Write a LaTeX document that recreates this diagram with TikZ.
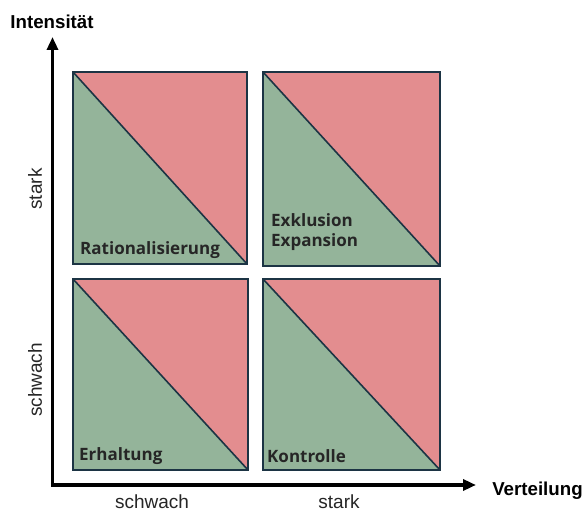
\documentclass[tikz,border=0pt]{standalone}
\usepackage{fontspec}
\setmainfont{Liberation Sans}
\newfontfamily\qfont{Open Sans}
\usetikzlibrary{arrows.meta}
\definecolor{qred}{HTML}{E38D8F}
\definecolor{qgreen}{HTML}{94B49A}
\definecolor{qedge}{HTML}{1C3444}
\tikzset{
  axis/.style={line width=3.4pt,-{Triangle[length=13pt,width=11pt]}},
  qlabel/.style={anchor=west,font=\qfont\bfseries\fontsize{17}{20}\selectfont,inner sep=0pt,text=black!85},
  axlabel/.style={font=\bfseries\fontsize{18.7}{22}\selectfont,inner sep=0pt},
  ticklabel/.style={font=\fontsize{19}{22}\selectfont,inner sep=0pt,text=black!85},
  qborder/.style={draw=qedge,line width=1.6pt}
}
\newcommand{\quadrant}[4]{%
  \fill[qred] (#1,#2) rectangle (#3,#4);
  \fill[qgreen] (#1,#4) -- (#3,#2) -- (#1,#2) -- cycle;
  \draw[qborder] (#1,#4) -- (#3,#2);
  \draw[qborder] (#1,#2) rectangle (#3,#4);
}
\begin{document}
\begin{tikzpicture}[x=1pt,y=1pt]
\useasboundingbox (0,0) rectangle (584,513);
\fill[white] (0,0) rectangle (584,513);
\quadrant{73}{249}{247}{441}
\quadrant{263}{247}{440}{441}
\quadrant{73}{43}{248}{234}
\quadrant{263}{43}{440}{234}
\coordinate (ytip) at (52.5,476);
\coordinate (xtip) at (476,28);
\draw[axis] (52.5,26.3) -- (ytip);
\draw[axis] (50.8,28) -- (xtip);
\node[axlabel] (yl) at (52,491) {Intensität};
\node[axlabel] (xl) at (537.5,22) {Verteilung};
\node[ticklabel] (xs) at (152,11) {schwach};
\node[ticklabel] (xst) at (339,11) {stark};
\node[ticklabel,rotate=90] (ys) at (35,133) {schwach};
\node[ticklabel,rotate=90] (yst) at (35,324) {stark};
\node[qlabel] (q1) at (80,263) {Rationalisierung};
\node[qlabel] (q2a) at (271,293) {Exklusion};
\node[qlabel] (q2b) at (271,271) {Expansion};
\node[qlabel] (q3) at (79,57) {Erhaltung};
\node[qlabel] (q4) at (267,57) {Kontrolle};
\end{tikzpicture}
\end{document}
